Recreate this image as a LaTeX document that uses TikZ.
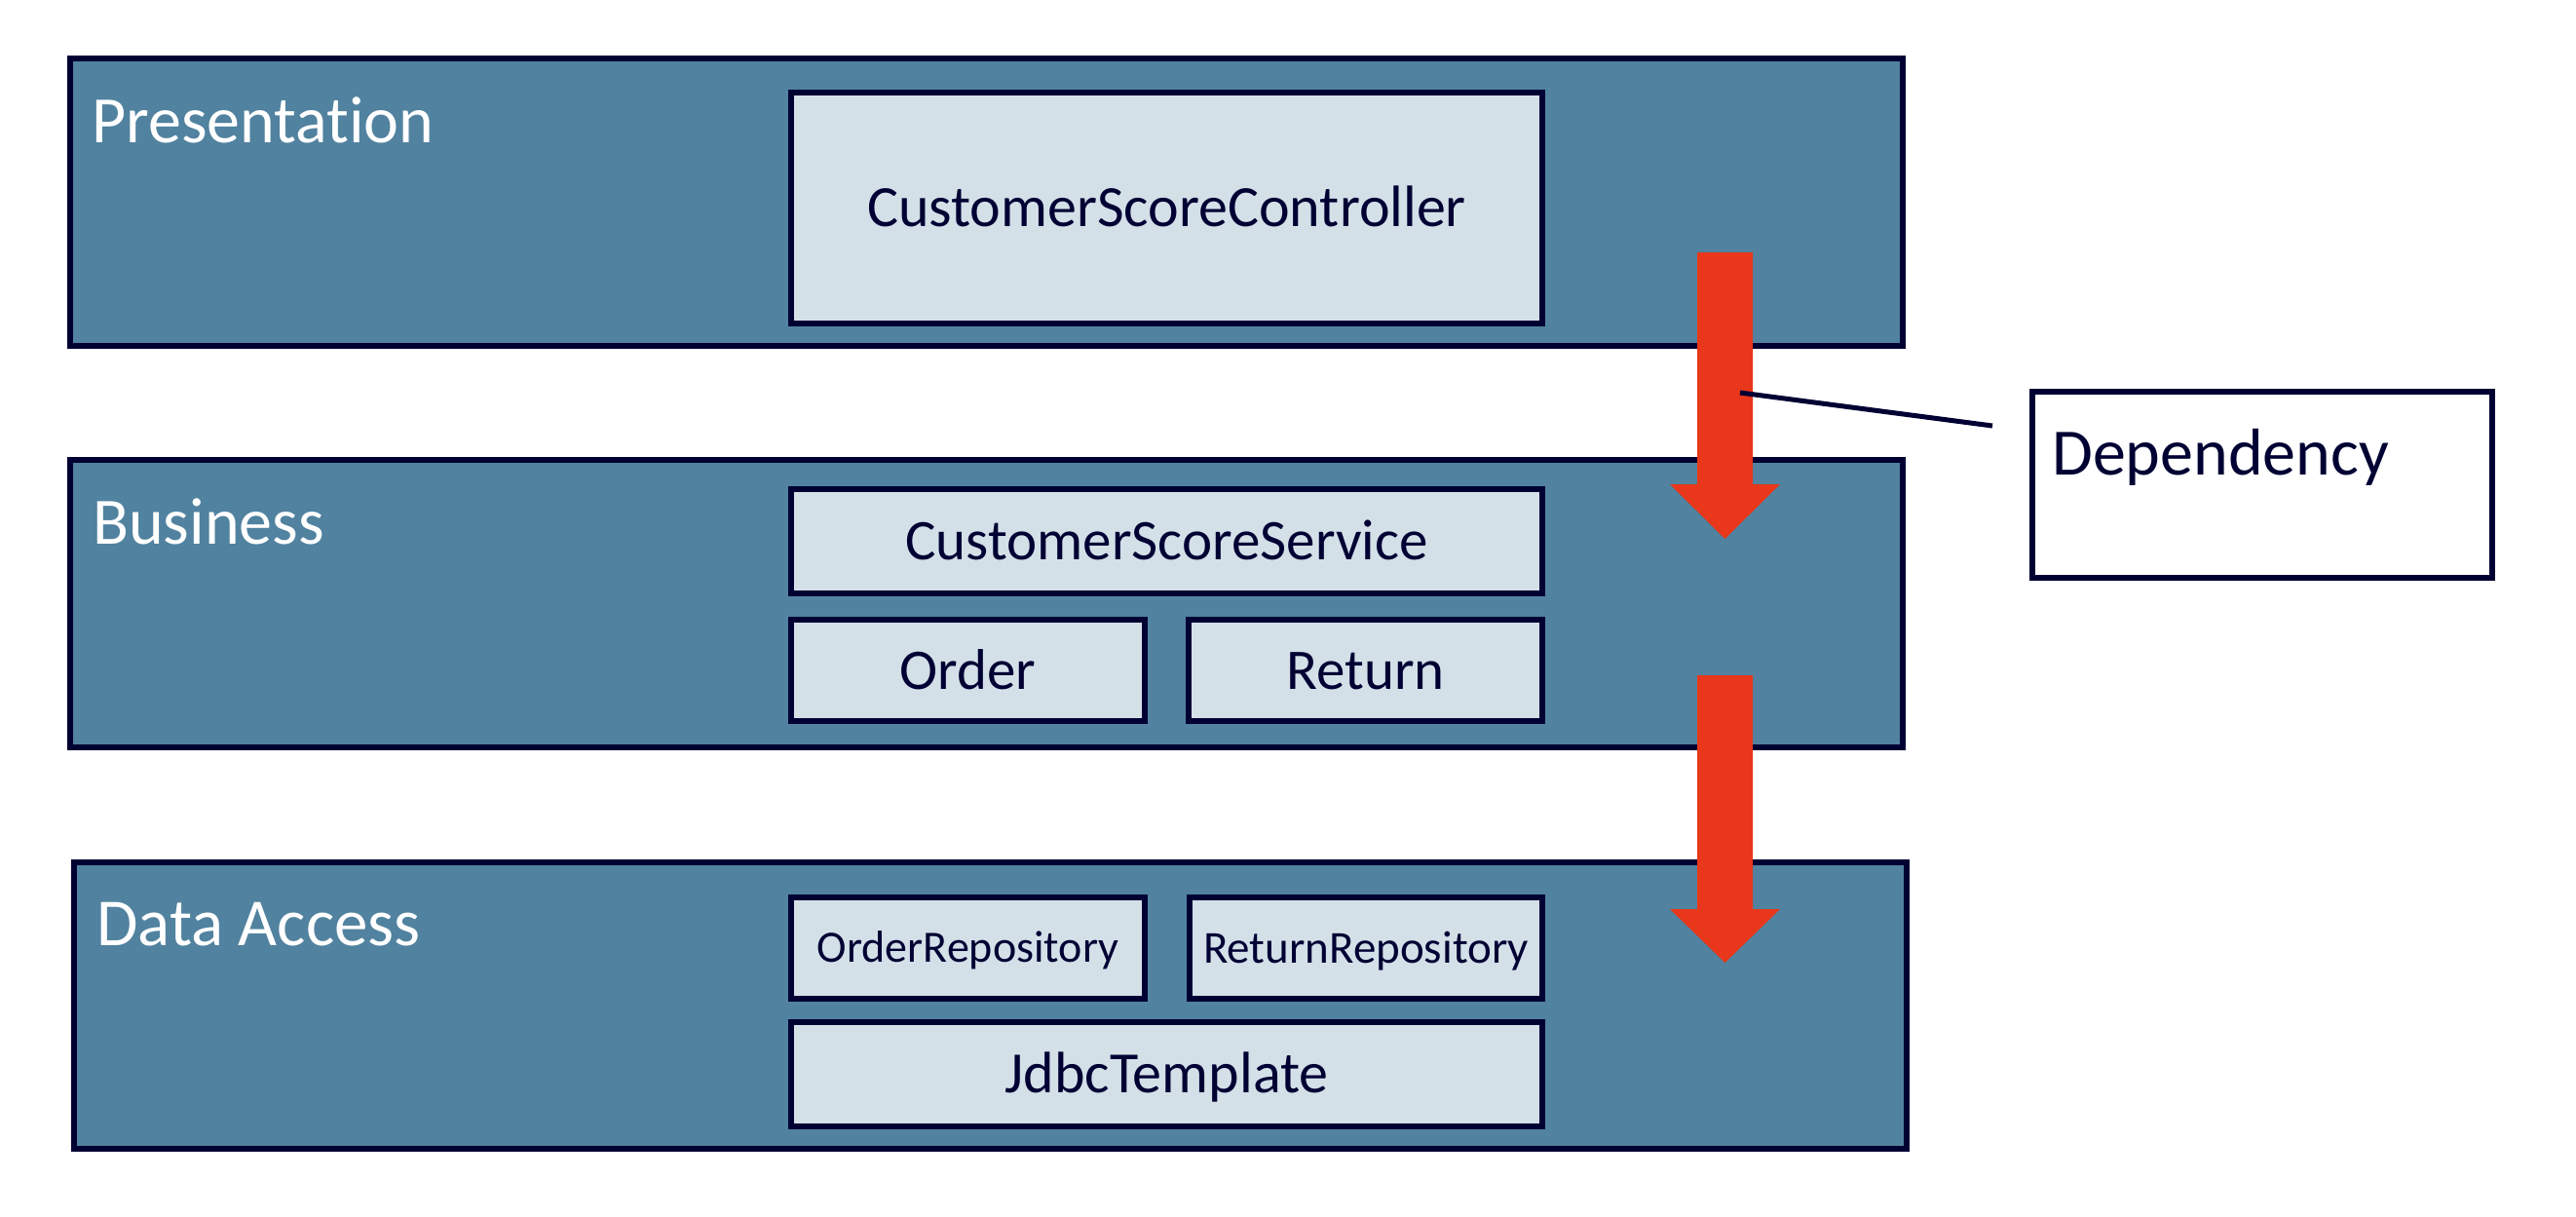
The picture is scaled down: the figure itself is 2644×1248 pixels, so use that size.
\documentclass[tikz,border=0pt]{standalone}
\usepackage{fontspec}
\setmainfont{Carlito}[Ligatures={NoCommon,NoRequired},RawFeature={-liga;-clig;-dlig}]
\definecolor{layerfill}{HTML}{51829F}
\definecolor{boxfill}{HTML}{D3E0E8}
\definecolor{navy}{HTML}{000033}
\definecolor{arrowred}{HTML}{E8371A}
\begin{document}
\begin{tikzpicture}[x=1pt,y=-1pt,
  layer/.style={draw=navy, line width=6pt, fill=layerfill, minimum width=1881pt, minimum height=295pt, inner sep=0pt},
  comp/.style={draw=navy, line width=6pt, fill=boxfill, text=navy, inner sep=0pt, text depth=0pt},
  title/.style={text=white, anchor=base west, inner sep=0pt, font=\fontsize{68}{80}\selectfont},
  deparrow/.style={fill=arrowred, draw=none},
  depline/.style={draw=navy, line width=5pt}]
\useasboundingbox[fill=white] (0,0) rectangle (2644,1248);

% layers
\node[layer] (pres) at (1012.5,207.5) {};
\node[layer] (bus) at (1012.5,619.5) {};
\node[layer, minimum height=294pt] (data) at (1016.5,1032) {};

\node[title, xshift=25pt, yshift=-89pt] (prest) at (pres.north west) {Presentation};
\node[title, xshift=26pt, yshift=-89pt] (bust) at (bus.north west) {Business};
\node[title, font=\fontsize{69}{80}\selectfont, xshift=26pt, yshift=-88pt] (datat) at (data.north west) {Data Access};

% components
\node[comp, minimum width=771pt, minimum height=237pt, font=\fontsize{60}{72}\selectfont, text height=38.6pt] (ctrl) at (1197.5,213.5) {CustomerScoreController};
\node[comp, minimum width=771pt, minimum height=107pt, font=\fontsize{59}{70}\selectfont, text height=38pt] (svc) at (1197.5,555.5) {CustomerScoreService};
\node[comp, minimum width=363pt, minimum height=104pt, font=\fontsize{59}{70}\selectfont, text height=38pt] (order) at (993.5,688) {Order};
\node[comp, minimum width=363pt, minimum height=104pt, font=\fontsize{59}{70}\selectfont, text height=38pt] (ret) at (1401.5,688) {Return};
\node[comp, minimum width=363pt, minimum height=104pt, font=\fontsize{46}{55}\selectfont, text height=29.6pt] (orepo) at (993.5,973) {OrderRepository};
\node[comp, minimum width=362pt, minimum height=104pt, font=\fontsize{47}{56}\selectfont, text height=30.3pt] (rrepo) at (1402,973) {ReturnRepository};
\node[comp, minimum width=771pt, minimum height=107pt, font=\fontsize{60}{72}\selectfont, text height=38.6pt] (jdbc) at (1197.5,1102.5) {JdbcTemplate};

% dependency arrows
\fill[deparrow] (1742,259) -- (1799,259) -- (1799,497) -- (1827,497) -- (1770.5,553) -- (1714,497) -- (1742,497) -- cycle;
\fill[deparrow] (1742,693) -- (1799,693) -- (1799,933) -- (1827,933) -- (1770.5,988) -- (1714,933) -- (1742,933) -- cycle;

% legend
\node[draw=navy, line width=6pt, fill=white, minimum width=472pt, minimum height=191pt, inner sep=0pt] (legend) at (2322,497.5) {};
\node[title, text=navy, xshift=23pt, yshift=-88pt] (legendt) at (legend.north west) {Dependency};
\coordinate (depA) at (1786,403);
\coordinate (depB) at (2045,437);
\draw[depline] (depA) -- (depB);
\end{tikzpicture}
\end{document}
